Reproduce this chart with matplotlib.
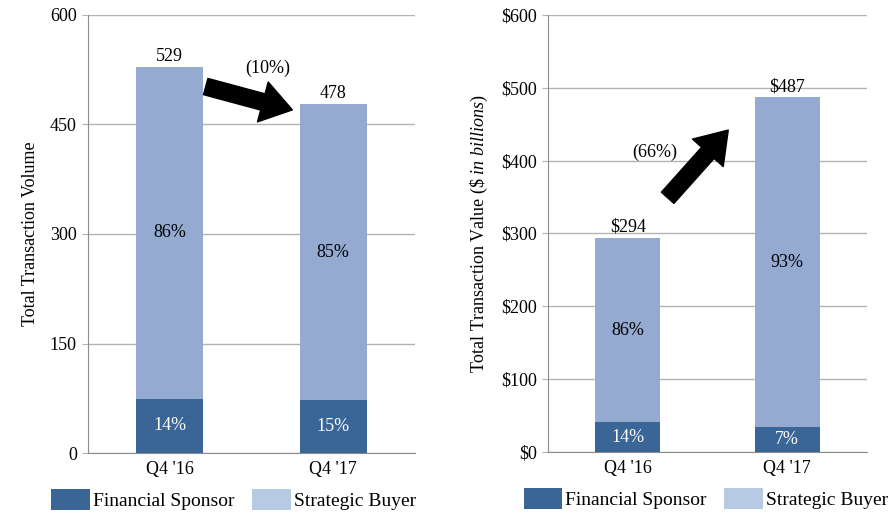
import matplotlib
matplotlib.use("Agg")
import matplotlib.pyplot as plt
from matplotlib.patches import Patch

plt.rcParams['font.family'] = 'Liberation Serif'
plt.rcParams['mathtext.fontset'] = 'custom'
plt.rcParams['mathtext.rm'] = 'Liberation Serif'
plt.rcParams['mathtext.it'] = 'Liberation Serif:italic'

# data
quarters = ["Q4 '16", "Q4 '17"]
vol_total = [529, 478]
vol_fin = [74, 72]
vol_fin_pct = ["14%", "15%"]
vol_str_pct = ["86%", "85%"]
val_total = [294, 487]
val_fin = [41, 34]
val_fin_pct = ["14%", "7%"]
val_str_pct = ["86%", "93%"]

dark = "#3a6597"
light = "#94aad1"
legend_light = "#b7cae4"
grid_c = "#b3b3b3"
arrow_style = 'simple,head_length=1.0,head_width=1.35,tail_width=0.55'

fig = plt.figure(figsize=(8.88, 5.13), dpi=100)
ax1 = fig.add_axes([88 / 888, 60 / 513, 327 / 888, 438 / 513])
ax2 = fig.add_axes([548 / 888, 61 / 513, 319 / 888, 437 / 513])


def draw(ax, total, fin, fin_pct, str_pct, ticks, ticklabels, top_labels):
    x = list(range(len(quarters)))
    strat = [t - f for t, f in zip(total, fin)]
    ax.bar(x, fin, width=0.41, color=dark, zorder=3)
    ax.bar(x, strat, bottom=fin, width=0.41, color=light, zorder=3)
    for i in x:
        ax.text(i, fin[i] / 2, fin_pct[i], ha='center', va='center',
                color='white', fontsize=13, zorder=4)
        ax.text(i, fin[i] + strat[i] / 2, str_pct[i], ha='center', va='center',
                color='black', fontsize=13, zorder=4)
        ax.text(i, total[i] + 3, top_labels[i], ha='center', va='bottom',
                color='black', fontsize=13, zorder=4)
    ax.set_xlim(-0.5, 1.5)
    ax.set_ylim(0, 600)
    ax.set_yticks(ticks)
    ax.set_yticklabels(ticklabels, fontsize=13)
    ax.set_xticks(x)
    ax.set_xticklabels(quarters, fontsize=13)
    ax.tick_params(axis='x', length=0, pad=6)
    ax.tick_params(axis='y', length=4, color=grid_c, pad=4)
    ax.grid(axis='y', color=grid_c, linewidth=1, zorder=0)
    for s in ['top', 'right']:
        ax.spines[s].set_visible(False)
    for s in ['left', 'bottom']:
        ax.spines[s].set_color('#8c8c8c')
    handles = [Patch(facecolor=dark, label='Financial Sponsor'),
               Patch(facecolor=legend_light, label='Strategic Buyer')]
    return handles


leg_kw = dict(loc='center', ncol=2, frameon=False, fontsize=14,
              handlelength=2.0, handleheight=1.3, handletextpad=0.15,
              columnspacing=0.9, borderpad=0)

h = draw(ax1, vol_total, vol_fin, vol_fin_pct, vol_str_pct,
         [0, 150, 300, 450, 600], ['0', '150', '300', '450', '600'],
         [str(v) for v in vol_total])
ax1.set_ylabel('Total Transaction Volume', fontsize=13, labelpad=8)
ax1.annotate('', xy=(0.75, 470), xytext=(0.22, 502),
             arrowprops=dict(arrowstyle=arrow_style, color='black',
                             shrinkA=0, shrinkB=0, mutation_scale=22), zorder=5)
ax1.text(0.6, 527, '(10%)', ha='center', va='center', fontsize=13)
ax1.legend(handles=h, bbox_to_anchor=(0.446, -0.107), **leg_kw)

h = draw(ax2, val_total, val_fin, val_fin_pct, val_str_pct,
         [0, 100, 200, 300, 400, 500, 600],
         ['$0', '$100', '$200', '$300', '$400', '$500', '$600'],
         ['$' + str(v) for v in val_total])
ax2.set_ylabel(r'Total Transaction Value ($\mathit{\$\ in\ billions}$)', fontsize=13, labelpad=8)
ax2.annotate('', xy=(0.63, 442), xytext=(0.25, 349),
             arrowprops=dict(arrowstyle=arrow_style, color='black',
                             shrinkA=0, shrinkB=0, mutation_scale=22), zorder=5)
ax2.text(0.17, 412, '(66%)', ha='center', va='center', fontsize=13)
ax2.legend(handles=h, bbox_to_anchor=(0.495, -0.107), **leg_kw)

fig.savefig('out.png', dpi=100)
